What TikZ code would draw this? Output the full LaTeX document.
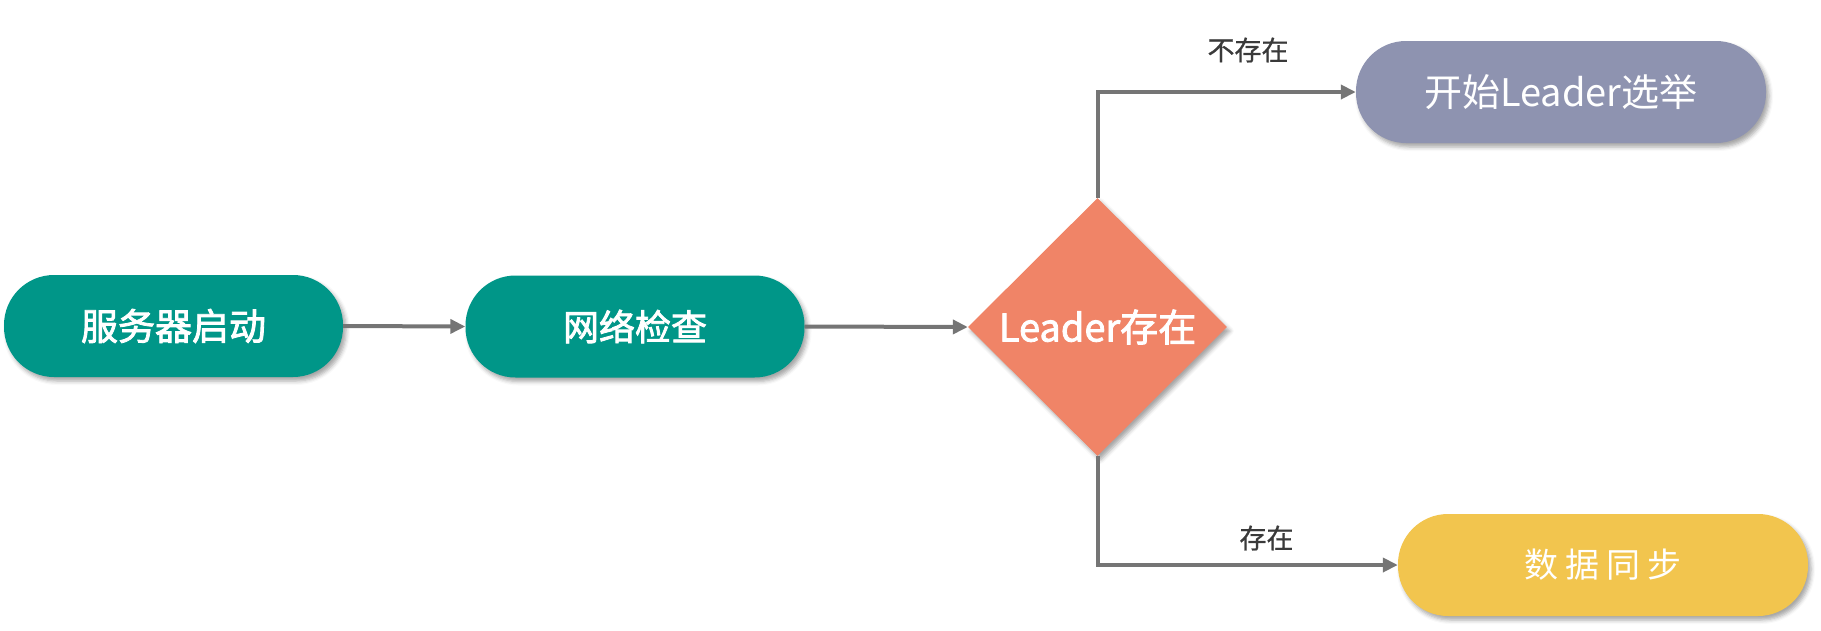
\documentclass[tikz,border=0pt]{standalone}
\usepackage{fontspec}
\newfontfamily\cjk{Noto Sans CJK SC}
\newfontfamily\cjkm[FakeBold=2.2]{Noto Sans CJK SC}
\newfontfamily\cjkl[FakeBold=0.8]{Noto Sans CJK SC}
\usetikzlibrary{arrows.meta,shapes.geometric,shadows.blur}
\definecolor{teal1}{RGB}{0,150,136}
\definecolor{salmon1}{RGB}{240,132,103}
\definecolor{lav1}{RGB}{142,147,176}
\definecolor{gold1}{RGB}{242,197,78}
\definecolor{arrowgray}{RGB}{117,117,117}
\definecolor{labelgray}{RGB}{58,58,58}
\tikzset{
  pill/.style={rounded corners=50pt, inner sep=0pt, minimum height=102pt, text=white,
    blur shadow={shadow xshift=3pt, shadow yshift=-4pt, shadow blur radius=4pt, shadow opacity=35}},
  decision/.style={diamond, aspect=1, inner sep=0pt, fill=salmon1, text=white,
    minimum width=259pt, minimum height=258pt,
    blur shadow={shadow xshift=3pt, shadow yshift=-4pt, shadow blur radius=4pt, shadow opacity=35}},
  conn/.style={draw=arrowgray, line width=4pt, -{Triangle[length=15pt,width=14pt]}},
  lbl/.style={text=labelgray, font=\cjkl\fontsize{27pt}{32pt}\selectfont}
}
\begin{document}
\begin{tikzpicture}[x=1pt,y=-1pt]
\useasboundingbox (0,0) rectangle (1821,630);
\node[pill, fill=teal1, minimum width=339pt] (n1) at (173.5,326)
  {\cjkm\fontsize{37pt}{44pt}\selectfont 服务器启动};
\node[pill, fill=teal1, minimum width=339pt] (n2) at (635,326.5)
  {\cjkm\fontsize{36pt}{43pt}\selectfont 网络检查};
\node[decision] (d) at (1097.5,327)
  {\cjkm\fontsize{38pt}{45pt}\selectfont Leader存在};
\node[pill, fill=lav1, minimum width=410pt] (n3) at (1561,92)
  {\cjk\fontsize{38pt}{45pt}\selectfont 开始Leader选举};
\node[pill, fill=gold1, minimum width=410pt] (n4) at (1603,565)
  {\cjk\fontsize{34pt}{40pt}\selectfont 数\hspace{7pt}据\hspace{7pt}同\hspace{7pt}步};
\draw[conn] (n1.east) -- (n2.west);
\draw[conn] (n2.east) -- (d.west);
\draw[conn] (d.north) |- (n3.west);
\draw[conn] (d.south) |- (n4.west);
\node[lbl] (l1) at (1248,50) {不存在};
\node[lbl] (l2) at (1266.5,538) {存在};
\end{tikzpicture}
\end{document}
